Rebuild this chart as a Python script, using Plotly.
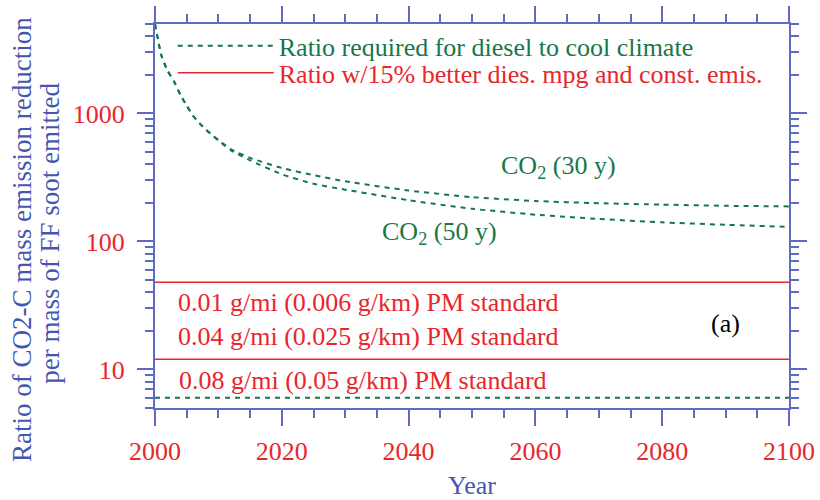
import plotly.graph_objects as go
import numpy as np

years = [2000, 2001, 2002, 2003, 2004, 2005, 2006, 2007, 2008, 2009, 2010, 2012,
         2015, 2020, 2025, 2030, 2040, 2050, 2060, 2070, 2080, 2090, 2100]
ratio_30y = [5000, 2850, 2150, 1780, 1400, 1150, 960, 840, 750, 680, 620, 524,
             450, 375, 330, 295, 250, 222, 207, 199, 194, 190, 188]
ratio_50y = [5000, 2850, 2150, 1780, 1400, 1150, 960, 840, 750, 680, 615, 515,
             430, 335, 282, 254, 210, 180, 162, 150, 141, 135, 130]

std_years = [2000, 2100]
std_001 = [48, 48]
std_004 = [12, 12]
std_008 = [6, 6]

y_title_lines = ["Ratio of CO2-C mass emission reduction", "per mass of FF soot emitted"]

GREEN = "#16784a"
RED = "#e8262b"
BLUE = "#4556b0"
AXIS = "#5d6cc0"
FONT = "Liberation Serif"

fig = go.Figure()

fig.add_trace(go.Scatter(x=years, y=ratio_30y, mode="lines",
                         line=dict(color=GREEN, width=2, dash="5px,5px", shape="spline", smoothing=0.5),
                         name='<span style="color:%s">Ratio required for diesel to cool climate</span>' % GREEN,
                         legend="legend"))
fig.add_trace(go.Scatter(x=years, y=ratio_50y, mode="lines",
                         line=dict(color=GREEN, width=2, dash="5px,5px", shape="spline", smoothing=0.5),
                         showlegend=False))
fig.add_trace(go.Scatter(x=std_years, y=std_001, mode="lines",
                         line=dict(color=RED, width=1.5),
                         name='<span style="color:%s">Ratio w/15%% better dies. mpg and const. emis.</span>' % RED,
                         legend="legend2"))
fig.add_trace(go.Scatter(x=std_years, y=std_004, mode="lines",
                         line=dict(color=RED, width=1.5), showlegend=False))
fig.add_trace(go.Scatter(x=std_years, y=std_008, mode="lines",
                         line=dict(color=GREEN, width=2, dash="5px,5px"), showlegend=False))

def ann(text, x, y, color):
    fig.add_annotation(x=x, y=np.log10(y), text=text, showarrow=False,
                       font=dict(family=FONT, size=26, color=color),
                       xanchor="center", yanchor="middle")

ann("CO<sub>2</sub> (30 y)", 2063.7, 379, GREEN)
ann("CO<sub>2</sub> (50 y)", 2044.9, 115.5, GREEN)
ann("0.01 g/mi (0.006 g/km) PM standard", 2033.6, 33.3, RED)
ann("0.04 g/mi (0.025 g/km) PM standard", 2033.6, 18.1, RED)
ann("0.08 g/mi (0.05 g/km) PM standard", 2032.8, 8.2, RED)
ann("(a)", 2090, 22.9, "black")

# y-axis title (two lines, tight spacing)
for txt, xp, yp in zip(y_title_lines, [-0.2098, -0.1656], [0.440, 0.454]):
    fig.add_annotation(xref="paper", yref="paper", x=xp, y=yp, text=txt,
                       textangle=-90, showarrow=False,
                       font=dict(family=FONT, size=27, color=BLUE),
                       xanchor="center", yanchor="middle")

leg_common = dict(xanchor="left", yanchor="middle", bgcolor="rgba(0,0,0,0)",
                  font=dict(family=FONT, size=26), itemwidth=96)

fig.update_layout(
    width=820, height=500,
    margin=dict(l=155, r=31, t=24, b=92, autoexpand=False),
    plot_bgcolor="white", paper_bgcolor="white",
    font=dict(family=FONT, size=26, color=RED),
    showlegend=True,
    legend=dict(x=0.028, y=0.943, **leg_common),
    legend2=dict(x=0.028, y=0.873, **leg_common),
    xaxis=dict(
        range=[2000, 2100], tickvals=[2000, 2020, 2040, 2060, 2080, 2100],
        ticks="outside", ticklen=16, tickwidth=2, tickcolor=AXIS,
        showline=True, linecolor=AXIS, linewidth=2, mirror="allticks",
        showgrid=False, zeroline=False, automargin=False, ticklabelstandoff=3,
        tickfont=dict(family=FONT, size=26, color=RED),
        minor=dict(dtick=5, ticks="outside", ticklen=8, tickwidth=1.5, tickcolor=AXIS, showgrid=False),
        title=dict(text="Year", font=dict(family=FONT, size=26, color=BLUE), standoff=16),
    ),
    yaxis=dict(
        type="log", range=[np.log10(5), np.log10(5000)],
        tickvals=[10, 100, 1000], ticktext=["10", "100", "1000"],
        ticks="outside", ticklen=16, tickwidth=2, tickcolor=AXIS,
        showline=True, linecolor=AXIS, linewidth=2, mirror="allticks",
        showgrid=False, zeroline=False, automargin=False, ticklabelstandoff=7,
        tickfont=dict(family=FONT, size=26, color=RED),
        minor=dict(dtick="D1", ticks="outside", ticklen=8, tickwidth=1.5, tickcolor=AXIS, showgrid=False),
    ),
)

fig.write_html("out.html", config={"displayModeBar": False},
               post_script="document.body.style.margin='0px';")
